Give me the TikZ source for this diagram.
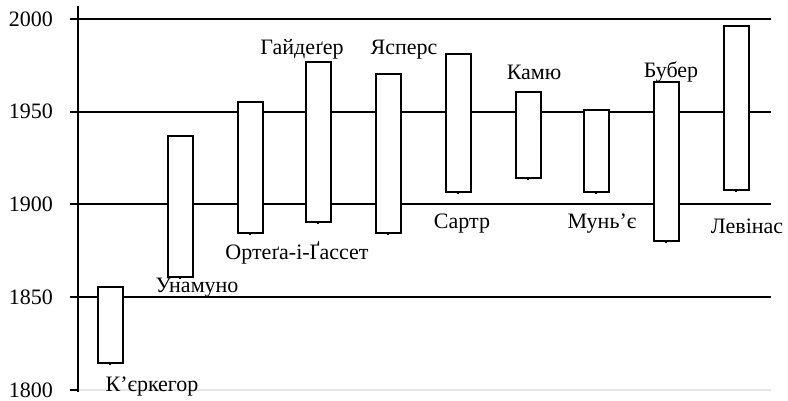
\documentclass[tikz,border=0pt]{standalone}
\usepackage{fontspec}
\setmainfont{Liberation Serif}
\begin{document}
\begin{tikzpicture}[x=0.5pt, y=0.9275pt, font=\fontsize{11}{13}\selectfont,
    bar/.style={draw, fill=white, line width=1pt},
    rule/.style={line width=1pt},
    philname/.style={anchor=base, inner sep=0pt}]
    \useasboundingbox (0,1794.07) rectangle (788,2010.24);
    % grid and axis
    \draw[gray!20, line width=0.6pt] (78,1800) -- (771,1800);
    \foreach \y in {1850,1900,1950,2000}
        \draw[rule] (78,\y) -- (771,\y);
    \foreach \y in {1800,1850,1900,1950,2000}
        \draw[rule] (78,\y) -- (70,\y) node[anchor=east, inner sep=0pt, xshift=-8pt] (tick\y) {\y};
    \draw[rule] (78,1799) -- (78,2007);
    % lifetimes
    \foreach \c/\a/\b in {110/1814.6/1855.5, 180/1860.9/1936.9, 250/1884.6/1955.3,
                          318/1890.6/1976.8, 388/1884.6/1970.4, 458/1906.7/1981.1,
                          528/1914.3/1960.6, 596/1906.7/1950.9, 666/1880.3/1966,
                          736/1907.8/1996.2}
    {
        \draw[bar] (\c-12.5,\a) rectangle (\c+12.5,\b);
        \draw[line width=0.6pt] (\c,\a) -- (\c,\a-1);
    }
    % names
    \node[philname] (kierkegaard) at (152,1798.9) {К’єркегор};
    \node[philname] (unamuno) at (197,1852.8) {Унамуно};
    \node[philname] (ortega) at (297,1870.1) {Ортеґа-і-Ґассет};
    \node[philname] (heidegger) at (302,1980.6) {Гайдеґер};
    \node[philname] (jaspers) at (404,1980.6) {Ясперс};
    \node[philname] (sartre) at (462,1887.3) {Сартр};
    \node[philname] (camus) at (534,1967.1) {Камю};
    \node[philname] (mounier) at (602,1886.8) {Мунь’є};
    \node[philname] (buber) at (671,1968.7) {Бубер};
    \node[philname] (levinas) at (747,1884.6) {Левінас};
\end{tikzpicture}
\end{document}
